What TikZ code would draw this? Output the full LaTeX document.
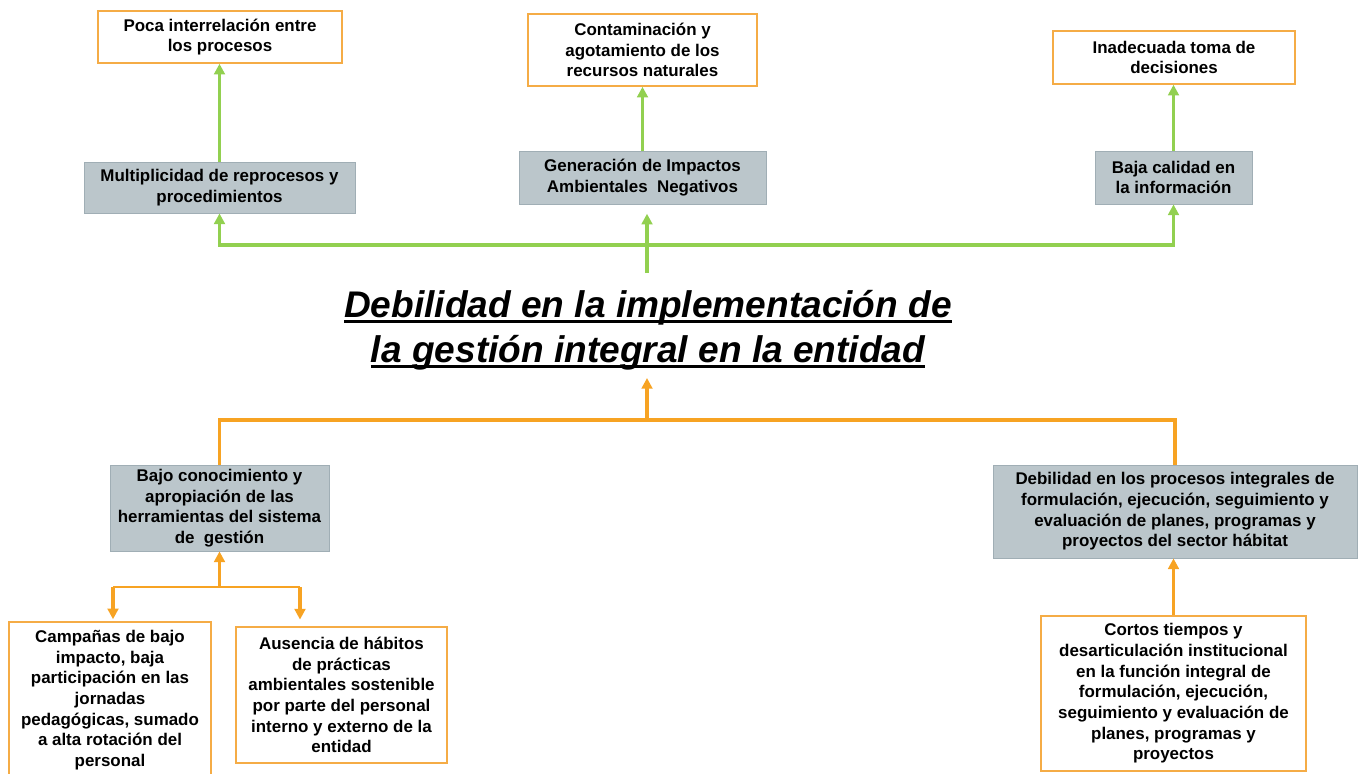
\documentclass[tikz,border=0pt]{standalone}
\usepackage{fontspec}
\setmainfont{Liberation Sans}
\usetikzlibrary{arrows.meta}

\definecolor{verde}{RGB}{146,208,80}
\definecolor{naranja}{RGB}{247,163,35}
\definecolor{borde}{RGB}{245,172,70}
\definecolor{gris}{RGB}{187,198,203}
\definecolor{grisborde}{RGB}{160,174,181}

\tikzset{
  efecto/.style={draw=borde, fill=white, line width=1.1pt, align=center,
    font=\bfseries\fontsize{12.7}{15.5}\selectfont, inner sep=0pt},
  causa/.style={draw=grisborde, fill=gris, line width=0.6pt, align=center,
    font=\bfseries\fontsize{12.7}{15.5}\selectfont, inner sep=0pt},
  verdelinea/.style={draw=verde, line width=2.8pt},
  verdeflecha/.style={verdelinea, -{Triangle[length=8pt,width=8pt]}},
  naranjalinea/.style={draw=naranja, line width=2.8pt},
  naranjaflecha/.style={naranjalinea, -{Triangle[length=8pt,width=8pt]}},
  naranjafina/.style={draw=naranja, line width=1.2pt}
}

\newcommand{\subrayar}[1]{\setbox0\hbox{#1}\rlap{\rule[-4.5pt]{\wd0}{2.3pt}}\box0}

\begin{document}
\begin{tikzpicture}[x=0.75pt, y=-0.75pt]
  \useasboundingbox (0,0) rectangle (1363,774);

  % efectos
  \node[efecto, minimum width=183pt, minimum height=39pt] (poca) at (220,37)
    {Poca interrelación entre\\los procesos};
  \node[efecto, minimum width=171.75pt, minimum height=54pt] (contam) at (642.5,50)
    {Contaminación y\\agotamiento de los\\recursos naturales};
  \node[efecto, minimum width=181.5pt, minimum height=39.75pt] (inadec) at (1174,57.5)
    {Inadecuada toma de\\decisiones};

  \node[causa, minimum width=203.25pt, minimum height=38.25pt] (multi) at (219.5,187.5)
    {Multiplicidad de reprocesos y\\procedimientos};
  \node[causa, minimum width=185.25pt, minimum height=39.75pt] (genera) at (642.5,177.5)
    {Generación de Impactos\\Ambientales\ \ Negativos};
  \node[causa, minimum width=117.75pt, minimum height=39.75pt] (baja) at (1173.5,177.5)
    {Baja calidad en\\la información};

  % problema central
  \node[align=center, font=\bfseries\itshape\fontsize{27.8}{34}\selectfont] (titulo) at (648,330)
    {\subrayar{Debilidad en la implementación de}\\\subrayar{la gestión integral en la entidad}};

  % causas
  \node[causa, minimum width=164.25pt, minimum height=64.5pt] (bajoc) at (219.5,508)
    {Bajo conocimiento y\\apropiación de las\\herramientas del sistema\\de\ \ gestión};
  \node[causa, minimum width=273pt, minimum height=69.75pt] (debil) at (1175,511.5)
    {Debilidad en los procesos integrales de\\formulación, ejecución, seguimiento y\\evaluación de planes, programas y\\proyectos del sector hábitat};

  \node[efecto, minimum width=151.5pt, minimum height=117pt] (campa) at (110,700)
    {Campañas de bajo\\impacto, baja\\participación en las\\jornadas\\pedagógicas, sumado\\a alta rotación del\\personal};
  \node[efecto, minimum width=158.25pt, minimum height=102pt] (ausencia) at (341.5,695)
    {Ausencia de hábitos\\de prácticas\\ambientales sostenible\\por parte del personal\\interno y externo de la\\entidad};
  \node[efecto, minimum width=198.75pt, minimum height=116.25pt] (cortos) at (1173.5,693.5)
    {Cortos tiempos y\\desarticulación institucional\\en la función integral de\\formulación, ejecución,\\seguimiento y evaluación de\\planes, programas y\\proyectos};

  % conectores verdes
  \coordinate (v0) at (647,273);
  \coordinate (v1) at (647,245);
  \draw[verdelinea] (v0) -- (v1);
  \draw[verdeflecha] (v1) -| (multi.south);
  \draw[verdeflecha] (v1) -| (baja.south);
  \draw[verdeflecha, shorten >=7pt] (v1) -- (v1 |- genera.south);
  \draw[verdeflecha] (multi.north) -- (multi.north |- poca.south);
  \draw[verdeflecha] (genera.north) -- (contam.south);
  \draw[verdeflecha] (baja.north) -- (baja.north |- inadec.south);

  % conectores naranja
  \coordinate (n0) at (647,420);
  \coordinate (n1) at (647,378);
  \draw[naranjaflecha] (n0) -- (n1);
  \draw[naranjalinea] (bajoc.north) |- (n0) -| (debil.north);
  \coordinate (b0) at (219.5,587);
  \coordinate (b1) at (113,587);
  \coordinate (b2) at (300,587);
  \draw[naranjaflecha] (b0) -- (bajoc.south);
  \draw[naranjafina] (b1) -- (b2);
  \draw[naranjaflecha] (b1) -- ([yshift=1.5pt]b1 |- campa.north);
  \draw[naranjaflecha] (b2) -- ([yshift=5pt]b2 |- ausencia.north);
  \draw[naranjaflecha] (cortos.north) -- (cortos.north |- debil.south);
\end{tikzpicture}
\end{document}
